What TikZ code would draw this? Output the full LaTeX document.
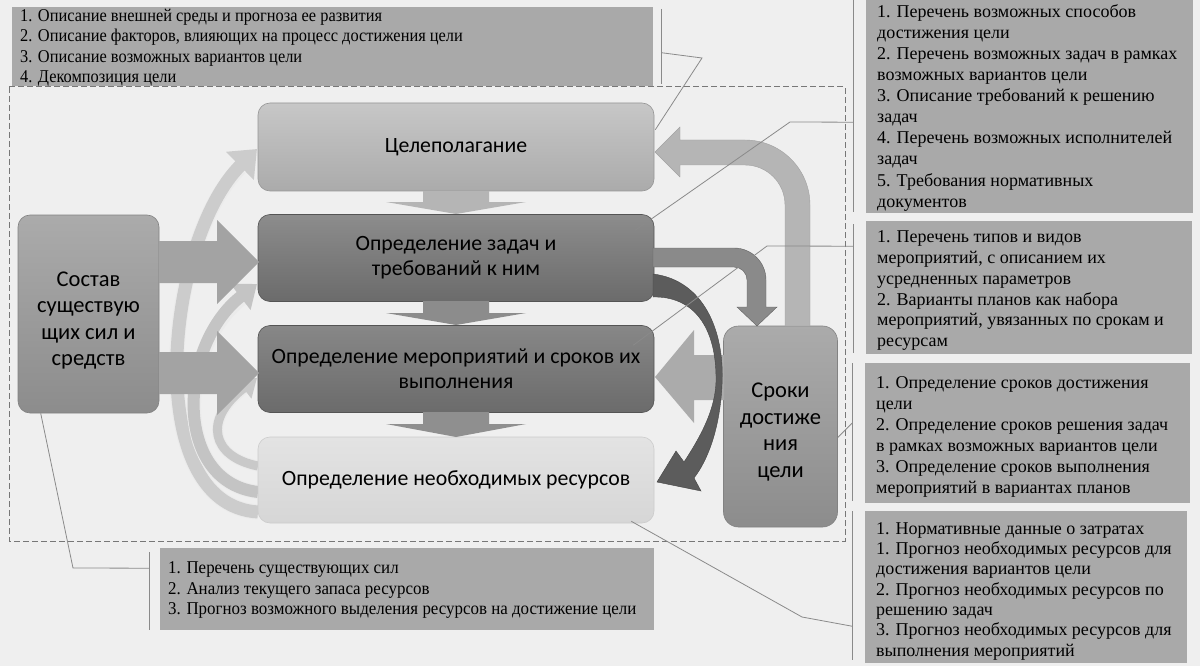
\documentclass[tikz,border=0pt]{standalone}
\usepackage{fontspec}
\setmainfont{Liberation Serif}
\newfontfamily\calib{Carlito}
\newfontfamily\condA[FakeStretch=0.91]{Liberation Serif}
\newfontfamily\condB[FakeStretch=0.94]{Liberation Serif}
\usetikzlibrary{arrows.meta,calc}
\definecolor{bgc}{HTML}{EFEFEF}
\definecolor{tboxc}{HTML}{A9A9A9}
\definecolor{linec}{HTML}{8A8A8A}
\definecolor{dashc}{HTML}{777777}
\begin{document}
\begin{tikzpicture}[x=1pt,y=-1pt,
  mainbox/.style={rounded corners=12pt, draw=#1, line width=0.6pt, inner sep=0pt, font=\calib\fontsize{21.8}{25}\selectfont, align=center},
  narrowbox/.style={font=\calib\fontsize{22.5}{26.5}\selectfont},
  tbox/.style={fill=tboxc, inner sep=0pt},
  ttext/.style={anchor=west, align=left, inner sep=0pt, font=\fontsize{18}{21}\selectfont},
  conn/.style={draw=linec, line width=0.8pt},
]
\useasboundingbox (0,0) rectangle (1200,666);
\fill[bgc] (0,0) rectangle (1200,666);

% dashed frame
\draw[dashc, line width=1pt, dash pattern=on 6pt off 3pt] (9,87) rectangle (845,541);

% light curved arrows (behind boxes)
\draw[white!92!black, line width=15pt] (258,512) .. controls (140,505) and (165,240) .. (240,168);
\draw[line width=13pt, draw=black!20, -{Triangle[width=38pt,length=24pt]}] (258,512) .. controls (140,505) and (165,240) .. (257,149);

\draw[white!92!black, line width=14pt] (258,492) .. controls (172,482) and (178,345) .. (244,297);
\draw[line width=12pt, draw=black!23, -{Triangle[width=32pt,length=21pt]}] (258,492) .. controls (172,482) and (178,345) .. (257,284);

\draw[white!92!black, line width=11pt] (258,466) .. controls (212,457) and (202,420) .. (245,388);
\draw[line width=9pt, draw=black!21, -{Triangle[width=25pt,length=17pt]}] (258,466) .. controls (212,457) and (202,420) .. (257,378);

% main boxes
\node[mainbox=black!41, top color=black!22, bottom color=black!33, minimum width=396pt, minimum height=88pt] (celp) at (456,147) {Целеполагание};
\node[mainbox=black!67, top color=black!45, bottom color=black!58, minimum width=396pt, minimum height=87pt] (zad) at (456,258) {Определение задач и\\требований к ним};
\node[mainbox=black!67, top color=black!47, bottom color=black!58, minimum width=396pt, minimum height=87pt] (mer) at (456,369) {Определение мероприятий и сроков их\\выполнения};
\node[mainbox=black!20, top color=black!11, bottom color=black!16, minimum width=396pt, minimum height=86pt] (res) at (456,480) {Определение необходимых ресурсов};
\node[mainbox=black!49, narrowbox, top color=black!33, bottom color=black!45, minimum width=141pt, minimum height=198pt] (sost) at (88.5,314) {\rule{0pt}{28pt}Состав\\существую\\щих сил и\\средств};
\node[mainbox=black!49, narrowbox, rounded corners=15pt, top color=black!33, bottom color=black!45, minimum width=114pt, minimum height=201pt] (srok) at (780.5,426.5) {\rule{0pt}{26pt}Сроки\\достиже\\ния\\цели};

% down block arrows
\fill[black!29] (423,191) -- (489,191) -- (489,202) -- (526,202) -- (456,214) -- (386,202) -- (423,202) -- cycle;
\fill[black!45] (423,301) -- (489,301) -- (489,313) -- (526,313) -- (456,325) -- (386,313) -- (423,313) -- cycle;
\fill[black!44] (423,412) -- (489,412) -- (489,424) -- (526,424) -- (456,437) -- (386,424) -- (423,424) -- cycle;

% right block arrows from sost
\fill[black!36] (159,241) -- (217,241) -- (217,220) -- (259,262) -- (217,304) -- (217,283) -- (159,283) -- cycle;
\fill[black!36] (159,352) -- (217,352) -- (217,331) -- (259,373) -- (217,415) -- (217,394) -- (159,394) -- cycle;

% left block arrow from srok
\fill[black!33] (724,355) -- (694,355) -- (694,330) -- (655,377) -- (694,423) -- (694,400) -- (724,400) -- cycle;

% srok -> celp (up and left)
\filldraw[fill=black!29, draw=black!37, line width=0.4pt] (785,326) -- (785,205) .. controls (785,182.9) and (767.1,165) .. (745,165) -- (680,165) -- (680,177) -- (655,152) -- (680,127) -- (680,140) -- (745,140) .. controls (780.9,140) and (810,169.1) .. (810,205) -- (810,326) -- cycle;

% zad -> srok
\filldraw[fill=black!46, draw=black!61, line width=0.4pt] (653,248) -- (734,248) .. controls (751.7,248) and (766,262.3) .. (766,280) -- (766,307) -- (777,307) -- (757,326) -- (737,307) -- (747,307) -- (747,280) .. controls (747,272.8) and (741.2,267) .. (734,267) -- (653,267) -- cycle;

% dark curved arrow zad -> res
\filldraw[fill=black!64, draw=black!73, line width=0.4pt] (653,274) .. controls (703,280) and (725,330) .. (722,385) .. controls (720,428) and (708,460) .. (694,478) -- (701,491) -- (657,482) -- (676,451) -- (684,462) .. controls (701,436) and (715,410) .. (716,382) .. controls (717,325) and (692,296) .. (653,297) -- cycle;

% text boxes
\node[tbox, anchor=north west, minimum width=641pt, minimum height=79pt] (tl) at (12,7) {};
\node[ttext, font=\condA\fontsize{18}{20.2}\selectfont] (tlt) at ($(tl.west)+(8,1)$) {1. Описание внешней среды и прогноза ее развития\\2. Описание факторов, влияющих на процесс достижения цели\\3. Описание возможных вариантов цели\\4. Декомпозиция цели};

\node[tbox, anchor=north west, minimum width=327pt, minimum height=213pt] (r1) at (866,0) {};
\node[ttext, font=\fontsize{18}{21.1}\selectfont] (r1t) at ($(r1.west)+(11,1)$) {1. Перечень возможных способов\\достижения цели\\2. Перечень возможных задач в рамках\\возможных вариантов цели\\3. Описание требований к решению\\задач\\4. Перечень возможных исполнителей\\задач\\5. Требования нормативных\\документов};

\node[tbox, anchor=north west, minimum width=326pt, minimum height=133pt] (r2) at (866,221) {};
\node[ttext, font=\fontsize{18}{20.8}\selectfont] (r2t) at ($(r2.west)+(11,3)$) {1. Перечень типов и видов\\мероприятий, с описанием их\\усредненных параметров\\2. Варианты планов как набора\\мероприятий, увязанных по срокам и\\ресурсам};

\node[tbox, anchor=north west, minimum width=325pt, minimum height=140pt] (r3) at (865,363) {};
\node[ttext, font=\fontsize{18}{21}\selectfont] (r3t) at ($(r3.west)+(11,4)$) {1. Определение сроков достижения\\цели\\2. Определение сроков решения задач\\в рамках возможных вариантов цели\\3. Определение сроков выполнения\\мероприятий в вариантах планов};

\node[tbox, anchor=north west, minimum width=322pt, minimum height=152pt] (r4) at (865,511) {};
\node[ttext, font=\fontsize{18}{20.3}\selectfont] (r4t) at ($(r4.west)+(11,4)$) {1. Нормативные данные о затратах\\1. Прогноз необходимых ресурсов для\\достижения вариантов цели\\2. Прогноз необходимых ресурсов по\\решению задач\\3. Прогноз необходимых ресурсов для\\выполнения мероприятий};

\node[tbox, anchor=north west, minimum width=494pt, minimum height=82pt] (bot) at (160,548) {};
\node[ttext, font=\condB\fontsize{18}{20.5}\selectfont] (bott) at ($(bot.west)+(8,1)$) {1. Перечень существующих сил\\2. Анализ текущего запаса ресурсов\\3. Прогноз возможного выделения ресурсов на достижение цели};

% brackets
\draw[conn] ($(tl.north east)+(8,2)$) -- ($(tl.south east)+(8,-2)$);
\draw[conn] ($(r1.north west)+(-13,0)$) -- ($(r1.south west)+(-13,-1)$);
\draw[conn] ($(r2.north west)+(-13,3)$) -- ($(r2.south west)+(-13,-1)$);
\draw[conn] ($(r3.north west)+(-13,0)$) -- ($(r3.south west)+(-13,-2)$);
\draw[conn] ($(r4.north west)+(-13,0)$) -- ($(r4.south west)+(-13,-3)$);
\draw[conn] ($(bot.north west)+(-11,4)$) -- ($(bot.south west)+(-11,0)$);

% connectors
\coordinate (k0) at (702,58);
\draw[conn] ($(celp.north east)+(1,27)$) -- (k0) -- ($(tl.east)+(8,6)$);
\coordinate (k1) at (790,122);
\draw[conn] ($(zad.north east)+(-19,16)$) -- (k1) -- ($(r1.west)+(-13,15.5)$);
\coordinate (k2) at (767,246);
\draw[conn] ($(mer.north east)+(-21,20)$) -- (k2) -- ($(r2.west)+(-13,-41.5)$);
\draw[conn] ($(srok.east)+(0,11)$) -- ($(r3.west)+(-13,-10)$);
\coordinate (k4) at (802,617);
\draw[conn] ($(res.south east)+(-23,-2)$) -- (k4) -- ($(r4.west)+(-13,39)$);
\coordinate (k5) at (73,568);
\draw[conn] ($(sost.south west)+(23,0)$) -- (k5) -- ($(bot.west)+(-11,-21)$);
\end{tikzpicture}
\end{document}
